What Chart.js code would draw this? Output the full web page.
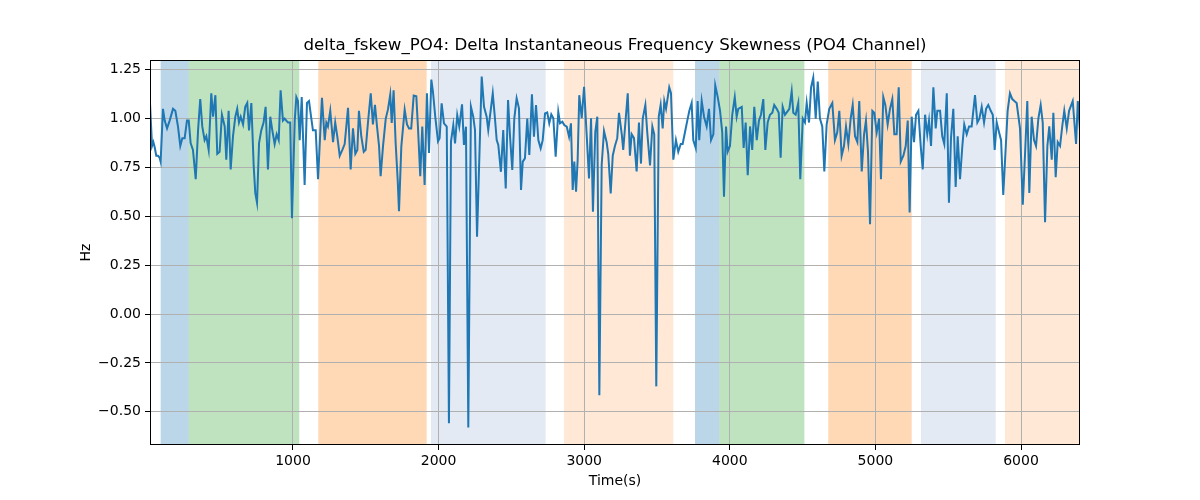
<!DOCTYPE html>
<html>
<head>
<meta charset="utf-8">
<script src="https://cdn.jsdelivr.net/npm/chart.js@4.4.1/dist/chart.umd.min.js"></script>
<style>
html,body{margin:0;padding:0;background:#fff;}
#wrap{width:1200px;height:500px;}
</style>
</head>
<body>
<div id="wrap"><canvas id="c" width="1200" height="500"></canvas></div>
<script>
const TITLE = "delta_fskew_PO4: Delta Instantaneous Frequency Skewness (PO4 Channel)";
const X_LABEL = "Time(s)";
const Y_LABEL = "Hz";
const X_TICKS = [1000, 2000, 3000, 4000, 5000, 6000];
const Y_TICKS = [-0.5, -0.25, 0, 0.25, 0.5, 0.75, 1.0, 1.25];
const X_RANGE = [18, 6405];
const Y_RANGE = [-0.67, 1.30];

const times = [18,32,41,50,61,73,84,91,107,119,135,153,176,192,210,226,240,256,272,284,297,313,332,348,363,377,393,405,421,439,451,467,480,496,512,531,542,558,572,588,604,617,629,641,657,672,686,698,714,730,741,753,767,782,798,812,828,844,858,874,888,902,915,931,943,954,966,981,993,1012,1023,1034,1046,1060,1080,1096,1110,1126,1137,1156,1172,1199,1218,1229,1240,1256,1275,1290,1304,1321,1339,1355,1378,1396,1412,1428,1442,1453,1469,1486,1499,1515,1534,1549,1563,1577,1591,1602,1618,1637,1652,1668,1678,1691,1705,1719,1728,1744,1767,1783,1797,1812,1829,1847,1858,1874,1888,1904,1920,1934,1950,1961,1977,1996,2007,2021,2037,2056,2071,2085,2101,2113,2128,2142,2161,2174,2188,2204,2222,2238,2250,2264,2296,2312,2330,2341,2358,2372,2387,2399,2410,2428,2444,2461,2477,2490,2506,2520,2536,2552,2566,2578,2593,2609,2623,2641,2655,2669,2685,2701,2715,2731,2746,2760,2774,2788,2804,2822,2834,2850,2863,2880,2896,2909,2921,2932,2944,2955,2966,2983,2999,3017,3033,3047,3060,3076,3090,3104,3120,3136,3154,3165,3182,3196,3211,3227,3239,3258,3268,3299,3314,3326,3342,3360,3376,3390,3402,3420,3433,3452,3468,3481,3495,3512,3525,3539,3550,3562,3584,3596,3612,3630,3646,3663,3676,3692,3708,3722,3738,3749,3766,3779,3790,3807,3823,3841,3857,3871,3887,3900,3917,3933,3948,3960,3974,3985,4001,4017,4034,4047,4058,4082,4095,4109,4123,4139,4154,4168,4185,4200,4214,4230,4244,4260,4276,4292,4305,4322,4336,4349,4363,4379,4409,4425,4436,4452,4470,4484,4501,4516,4528,4544,4558,4573,4590,4604,4619,4635,4649,4665,4683,4704,4722,4738,4752,4768,4784,4798,4814,4830,4844,4860,4876,4889,4906,4922,4935,4949,4963,4979,4992,5009,5025,5038,5054,5068,5084,5100,5116,5130,5146,5160,5174,5192,5208,5222,5235,5249,5265,5279,5295,5311,5325,5341,5356,5368,5382,5398,5414,5425,5444,5459,5473,5490,5505,5519,5535,5551,5565,5581,5597,5610,5627,5643,5661,5684,5700,5714,5730,5746,5760,5775,5792,5806,5819,5833,5849,5863,5878,5908,5924,5940,5954,5970,5993,6012,6027,6043,6057,6073,6089,6103,6119,6135,6149,6165,6181,6194,6211,6222,6238,6252,6268,6283,6297,6314,6330,6355,6378,6390,6405];

const values = [1.08,0.86,0.88,0.855,0.81,0.81,0.80,0.78,1.05,0.99,0.95,0.99,1.05,1.04,0.96,0.86,0.90,0.90,0.99,0.99,0.875,0.84,0.69,0.94,1.10,0.96,0.89,0.91,0.84,1.13,1.01,1.12,0.82,0.83,1.02,0.96,0.79,1.04,0.74,0.91,1.01,1.05,0.98,1.01,0.97,1.06,1.08,0.94,1.08,0.76,0.62,0.57,0.875,0.94,0.98,1.06,0.74,1.01,0.94,0.87,0.92,0.89,1.145,0.99,1.00,0.99,0.98,0.98,0.49,0.99,1.11,1.09,0.89,1.11,0.66,1.08,1.09,1.00,0.94,0.94,0.69,1.106,0.89,0.98,0.96,1.04,0.88,0.98,0.91,0.81,0.84,0.87,1.055,0.74,0.95,0.82,0.84,1.04,0.91,0.83,0.84,0.98,1.13,0.97,1.07,0.96,0.86,0.705,0.857,1.00,1.046,1.123,0.978,1.145,0.875,0.688,0.526,0.857,1.046,0.97,0.95,0.95,1.118,1.114,0.96,0.705,0.96,0.66,1.13,0.824,1.20,1.14,1.01,0.884,0.90,1.078,0.976,0.959,-0.559,0.882,0.967,0.873,1.018,0.959,1.073,0.865,0.959,-0.58,1.061,1.01,0.942,0.396,1.215,1.061,1.01,0.942,1.044,1.129,1.002,0.89,0.865,0.728,0.942,0.643,1.095,0.916,0.737,1.001,1.104,1.053,0.635,0.78,0.797,1.001,0.814,1.124,0.907,1.07,0.89,0.848,0.89,1.027,1.032,0.976,1.022,1.002,0.805,1.035,0.976,0.984,0.967,0.959,0.907,0.976,0.635,0.78,0.626,0.788,1.12,1.002,1.163,0.916,0.694,1.002,0.524,0.933,1.01,-0.415,0.763,0.937,0.88,0.82,0.617,0.81,0.86,0.90,1.03,0.92,0.84,1.13,0.81,0.92,0.90,0.73,0.98,0.77,1.00,1.07,0.93,0.76,0.96,0.92,-0.37,1.01,1.07,0.95,1.09,1.05,1.16,1.13,0.79,0.89,0.83,0.87,0.87,0.93,0.99,1.04,1.08,0.89,0.85,1.09,0.89,1.09,1.01,0.96,1.05,0.89,0.92,1.17,1.11,1.04,0.93,0.60,0.96,0.83,0.86,1.02,1.11,1.01,1.05,1.06,0.85,0.98,0.71,0.96,0.84,1.06,0.89,0.99,1.02,1.10,0.84,0.98,1.02,1.03,1.07,1.05,1.03,0.80,1.06,1.02,1.05,1.14,1.03,1.02,1.08,0.69,1.00,0.98,1.08,0.98,1.16,1.21,1.00,1.19,1.00,0.96,0.73,0.97,1.05,1.08,0.89,0.93,1.04,0.81,0.86,0.96,0.87,1.00,1.07,0.91,0.88,1.09,0.73,0.92,0.99,0.83,0.46,1.04,1.03,0.93,1.00,0.69,1.11,1.07,0.97,1.05,1.10,0.92,0.92,1.16,0.78,0.81,0.86,0.99,0.52,1.01,0.88,1.02,1.04,0.86,0.74,1.02,0.92,0.99,0.86,1.16,0.95,1.04,1.04,0.91,0.87,1.13,0.57,0.90,1.05,0.65,0.91,0.69,0.86,0.97,0.92,0.96,0.96,1.12,0.98,1.00,1.06,0.98,1.05,1.07,1.04,1.02,0.84,0.98,0.93,0.89,0.61,1.04,1.13,1.10,1.09,1.08,0.95,0.56,0.81,1.09,0.62,1.01,0.89,0.86,1.00,1.07,0.98,0.47,0.86,0.96,0.79,1.03,0.70,0.88,0.86,0.96,1.04,0.95,1.04,1.09,0.87,1.09,0.94];

// shaded segments: start, end, colour
const spanStarts = [91, 284, 1174, 1948, 2861, 3761, 3928, 4676, 5313, 5890];
const spanEnds   = [284, 1043, 1918, 2735, 3612, 3928, 4512, 5249, 5826, 6405];
const spanColors = [
  'rgba(31,119,180,0.3)', 'rgba(44,160,44,0.3)', 'rgba(255,127,14,0.3)',
  'rgba(176,196,222,0.35)', 'rgba(255,127,14,0.17)',
  'rgba(31,119,180,0.3)', 'rgba(44,160,44,0.3)', 'rgba(255,127,14,0.3)',
  'rgba(176,196,222,0.35)', 'rgba(255,127,14,0.17)'
];

const points = times.map((t, i) => ({x: t, y: values[i]}));

Chart.defaults.font.family = "'DejaVu Sans', sans-serif";
Chart.defaults.color = '#000';

const spanPlugin = {
  id: 'spans',
  beforeDraw(chart) {
    const {ctx, chartArea, scales} = chart;
    const xs = scales.x;
    ctx.save();
    ctx.beginPath();
    ctx.rect(chartArea.left, chartArea.top, chartArea.right - chartArea.left, chartArea.bottom - chartArea.top);
    ctx.clip();
    for (let i = 0; i < spanStarts.length; i++) {
      const a = xs.getPixelForValue(spanStarts[i]);
      const b = xs.getPixelForValue(spanEnds[i]);
      ctx.fillStyle = spanColors[i];
      ctx.fillRect(a, chartArea.top, b - a, chartArea.bottom - chartArea.top);
    }
    ctx.restore();
  },
  afterDatasetsDraw(chart) {
    const {ctx, chartArea} = chart;
    ctx.save();
    ctx.strokeStyle = '#000';
    ctx.lineWidth = 1;
    ctx.strokeRect(Math.round(chartArea.left) + 0.5, Math.round(chartArea.top) + 0.5,
      Math.round(chartArea.right - chartArea.left) - 1, Math.round(chartArea.bottom - chartArea.top) - 1);
    ctx.fillStyle = '#000';
    ctx.font = "16.67px 'DejaVu Sans', sans-serif";
    ctx.textAlign = 'center';
    ctx.textBaseline = 'middle';
    ctx.fillText(TITLE, (chartArea.left + chartArea.right) / 2, 46);
    ctx.restore();
  }
};

const fmtY = v => (v < 0 ? '\u2212' : '') + Math.abs(v).toFixed(2);

new Chart(document.getElementById('c'), {
  type: 'line',
  data: {
    datasets: [{
      data: points,
      borderColor: '#1f77b4',
      borderWidth: 2,
      pointRadius: 0,
      tension: 0,
      fill: false
    }]
  },
  options: {
    responsive: false,
    animation: false,
    devicePixelRatio: 1,
    layout: {padding: {left: 70, right: 120, top: 60, bottom: 0}},
    plugins: {
      legend: {display: false},
      tooltip: {enabled: false},
      title: {display: false}
    },
    scales: {
      x: {
        type: 'linear',
        min: X_RANGE[0],
        max: X_RANGE[1],
        afterBuildTicks: s => { s.ticks = X_TICKS.map(v => ({value: v})); },
        afterFit: s => { s.height = 55; },
        ticks: {
          callback: v => String(v),
          font: {size: 14},
          padding: 3,
          maxRotation: 0
        },
        grid: {color: '#b0b0b0', lineWidth: 1, tickColor: '#000', tickLength: 5, drawTicks: true},
        border: {display: false},
        title: {display: true, text: X_LABEL, font: {size: 14}, padding: {top: 0, bottom: 10}}
      },
      y: {
        type: 'linear',
        min: Y_RANGE[0],
        max: Y_RANGE[1],
        afterBuildTicks: s => { s.ticks = Y_TICKS.map(v => ({value: v})); },
        afterFit: s => { s.width = 80; },
        ticks: {
          callback: v => fmtY(v),
          font: {size: 14},
          padding: 4
        },
        grid: {color: '#b0b0b0', lineWidth: 1, tickColor: '#000', tickLength: 5, drawTicks: true},
        border: {display: false},
        title: {display: true, text: Y_LABEL, font: {size: 14}, padding: {top: 8, bottom: 0}}
      }
    }
  },
  plugins: [spanPlugin]
});
</script>
</body>
</html>
